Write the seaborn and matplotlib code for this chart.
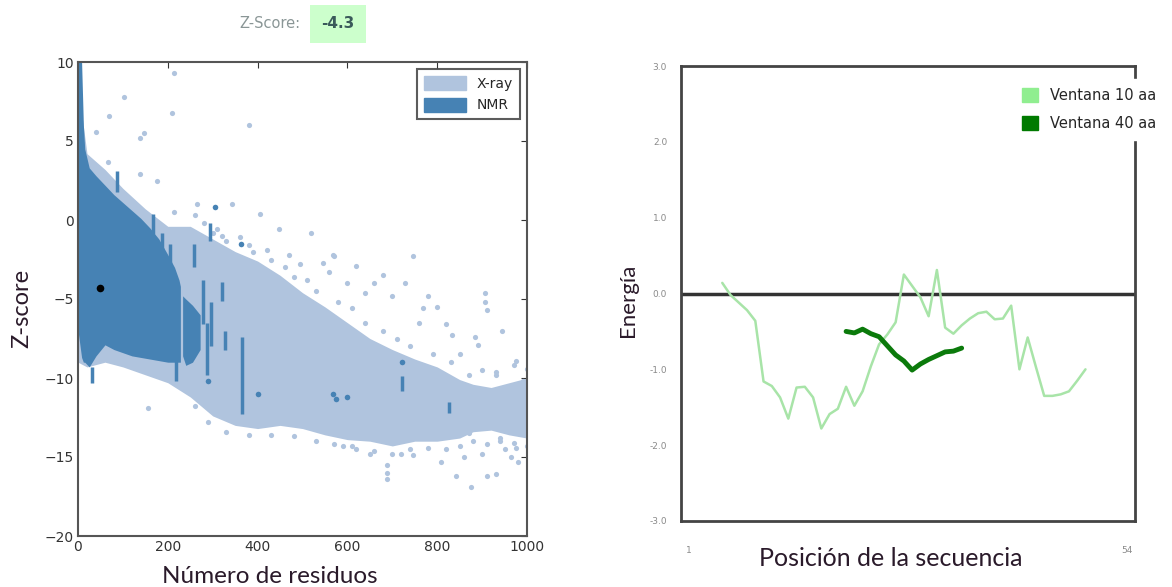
import matplotlib
matplotlib.use("Agg")
import matplotlib.pyplot as plt
from matplotlib.patches import Patch
import seaborn as sns

# ---- left panel: ProSA z-score cloud ----
# dense X-ray cloud envelope
xray_res = [0, 20, 60, 100, 150, 200, 250, 300, 350, 400, 450, 500, 550, 600,
            650, 700, 750, 800, 850, 880, 920, 960, 1000]
xray_top = [8.5, 4.2, 3.2, 2.0, 0.7, -0.4, -0.4, -1.2, -2.0, -2.6, -3.5, -4.6,
            -5.5, -6.5, -7.5, -8.2, -8.8, -9.3, -10.1, -10.4, -10.6, -10.3, -10.0]
xray_bot = [-9.0, -9.3, -9.0, -9.3, -9.8, -10.3, -11.2, -12.4, -13.0, -13.2, -13.0,
            -13.2, -13.6, -13.9, -14.0, -14.3, -14.0, -14.0, -13.8, -13.4, -13.3, -13.6, -13.8]

# dense NMR cloud envelope
nmr_res = [0, 8, 12, 15, 25, 40, 60, 80, 100, 120, 140, 160, 180, 200, 215, 225, 228]
nmr_top = [10.0, 10.0, 6.0, 4.5, 3.3, 2.8, 2.2, 1.6, 1.1, 0.6, 0.1, -0.5, -1.2,
           -2.2, -3.0, -3.8, -4.2]
nmr_bot = [-7.0, -8.7, -9.0, -9.0, -9.3, -8.6, -7.9, -8.2, -8.4, -8.6, -8.7, -8.8,
           -8.9, -9.0, -9.0, -9.0, -9.0]

# second NMR blob
blob_res = [233, 240, 255, 272]
blob_top = [-4.8, -5.0, -5.4, -6.0]
blob_bot = [-8.6, -9.2, -9.0, -8.2]

# NMR vertical streaks (residues, low, high)
streak_res = [87, 167, 187, 205, 258, 294, 278, 287, 297, 321, 327, 365, 32, 219, 721, 826]
streak_lo = [1.8, -0.9, -2.2, -3.0, -3.0, -1.3, -6.6, -9.8, -8.0, -5.1, -8.2, -12.3,
             -10.3, -10.2, -10.8, -12.2]
streak_hi = [3.1, 0.4, -0.8, -1.5, -1.5, -0.2, -3.8, -6.5, -5.2, -3.9, -7.0, -7.4,
             -9.3, -8.5, -9.9, -11.5]

# isolated NMR points
nmr_pt_res = [290, 401, 568, 574, 598, 721, 363, 305]
nmr_pt_z = [-10.2, -11.0, -11.0, -11.3, -11.2, -9.0, -1.55, 0.8]

# isolated X-ray points (outliers and ragged cloud edges)
xray_pt_res = [214, 102, 70, 209, 381, 40, 139, 147, 139, 175, 67, 266, 344, 214, 405,
               448, 518, 571, 619, 746, 679, 728, 906, 906, 910, 944, 799, 769, 884,
               890, 833, 545, 494, 568, 976, 1000, 155, 809, 841, 876, 912, 932, 980,
               689, 689, 689, 745, 860, 900, 950, 1000, 990, 960, 920, 870, 620, 650,
               720, 590, 300, 320, 380, 420, 470, 600, 640, 660, 700, 760, 820, 850,
               780, 560, 940, 975, 995, 965, 930,
               260, 280, 310, 330, 360, 390, 430, 460, 480, 510, 530, 580, 610, 640,
               680, 710, 740, 790, 830, 870, 900, 930, 970, 990,
               260, 290, 330, 380, 430, 480, 530, 570, 610, 660, 700, 740, 780, 820,
               850, 880, 910, 940, 970, 1000]
xray_pt_z = [9.3, 7.8, 6.6, 6.8, 6.0, 5.6, 5.2, 5.5, 2.9, 2.5, 3.7, 1.0, 1.0, 0.5, 0.35,
             -0.6, -0.8, -2.3, -2.9, -2.3, -3.5, -4.0, -4.6, -5.2, -5.7, -7.0, -5.5,
             -5.6, -7.4, -7.9, -7.3, -2.7, -2.8, -2.2, -8.9, -9.4, -11.9, -15.3, -16.2,
             -16.9, -16.2, -16.1, -15.3, -15.5, -16.0, -16.4, -14.9, -15.0, -14.8, -14.5,
             -13.0, -11.5, -12.8, -12.0, -13.5, -14.5, -14.8, -14.8, -14.3, -0.8, -1.0,
             -1.6, -1.9, -2.2, -4.0, -4.6, -4.0, -4.8, -6.5, -6.6, -8.5, -4.8, -3.3,
             -14.0, -14.4, -12.2, -15.0, -9.6,
             0.3, -0.2, -0.6, -1.3, -1.1, -2.0, -2.5, -3.0, -3.6, -3.8, -4.5, -5.2,
             -5.6, -6.5, -7.0, -7.5, -8.0, -8.5, -9.0, -9.8, -9.5, -9.8, -9.2, -10.2,
             -11.8, -12.8, -13.4, -13.6, -13.6, -13.7, -14.0, -14.2, -14.3, -14.6,
             -14.8, -14.5, -14.4, -14.5, -14.3, -14.0, -14.2, -13.8, -14.1, -14.3]

query_res = [50]
query_z = [-4.3]

# ---- right panel: energy profile ----
pos10 = list(range(5, 50))
energy10 = [0.14, -0.02, -0.12, -0.22, -0.36, -1.16, -1.22, -1.37, -1.65, -1.24,
            -1.23, -1.37, -1.78, -1.59, -1.52, -1.23, -1.48, -1.29, -0.96, -0.67,
            -0.54, -0.38, 0.25, 0.10, -0.05, -0.30, 0.31, -0.45, -0.53, -0.42, -0.33,
            -0.26, -0.24, -0.34, -0.33, -0.16, -1.00, -0.58, -0.97, -1.35, -1.35,
            -1.33, -1.29, -1.15, -1.00]
pos40 = list(range(20, 35))
energy40 = [-0.50, -0.52, -0.47, -0.53, -0.57, -0.69, -0.81, -0.89, -1.01, -0.93,
            -0.87, -0.82, -0.77, -0.76, -0.72]
energy_ticks = [-3, -2, -1, 0, 1, 2, 3]
energy_ticklabels = ["-3.0", "-2.0", "-1.0", "0.0", "1.0", "2.0", "3.0"]
pos_ticks = [1, 54]

light = "#b0c4de"
dark = "#4682b4"
label_col = "#2a1a2a"

sns.set_style("white")
plt.rcParams["font.family"] = ["DejaVu Sans"]

fig = plt.figure(figsize=(11.72, 5.87), dpi=100)
ax1 = fig.add_axes([78 / 1172, 51 / 587, 449 / 1172, 474 / 587])
ax2 = fig.add_axes([681 / 1172, 66 / 587, 454 / 1172, 455 / 587])

# left
ax1.fill_between(xray_res, xray_bot, xray_top, color=light, lw=0)
sns.scatterplot(x=xray_pt_res, y=xray_pt_z, color=light, s=14, linewidth=0, ax=ax1)
ax1.fill_between(nmr_res, nmr_bot, nmr_top, color=dark, lw=0)
ax1.fill_between(blob_res, blob_bot, blob_top, color=dark, lw=0)
ax1.vlines(streak_res, streak_lo, streak_hi, color=dark, lw=2.5)
sns.scatterplot(x=nmr_pt_res, y=nmr_pt_z, color=dark, s=16, linewidth=0, ax=ax1)
sns.scatterplot(x=query_res, y=query_z, color="black", s=30, linewidth=0, ax=ax1, zorder=5)

ax1.set_xlim(0, 1000)
ax1.set_ylim(-20, 10)
ax1.set_xticks(range(0, 1001, 200))
ax1.set_yticks(range(-20, 11, 5))
ax1.tick_params(direction="in", top=True, right=True, length=4, labelsize=10,
                colors="#333333", pad=3)
for s in ax1.spines.values():
    s.set_color("#555555")
    s.set_linewidth(1.5)
ax1.set_xlabel("Número de residuos", fontsize=17.5, color=label_col, family="Lato")
ax1.xaxis.set_label_coords(0.428, -0.063)
ax1.set_ylabel("Z-score", fontsize=17, color=label_col, family="Lato")
ax1.yaxis.set_label_coords(-0.102, 0.481)
ax1.legend(handles=[Patch(color=light, label="X-ray"), Patch(color=dark, label="NMR")],
           loc="upper right", fontsize=10, frameon=True, edgecolor="#333333",
           fancybox=False, handlelength=3, handleheight=1.2, borderpad=0.5)
ax1.legend_.get_frame().set_linewidth(1.5)

fig.text(300 / 1172, 1 - 24 / 587, "Z-Score:", ha="right", va="center",
         fontsize=10.5, color="#8a9696")
fig.text(338 / 1172, 1 - 24 / 587, "-4.3", ha="center", va="center", fontsize=11,
         fontweight="bold", color="#3a5a5a",
         bbox=dict(boxstyle="square,pad=0.75", fc="#ccffcc", ec="none"))

# right
sns.lineplot(x=pos10, y=energy10, color="#a8e4a8", lw=1.8, ax=ax2)
sns.lineplot(x=pos40, y=energy40, color="#0b7a0b", lw=3.5, ax=ax2)
ax2.axhline(0, color="#333333", lw=2.5, zorder=1)
ax2.set_xlim(0, 55)
ax2.set_ylim(-3, 3)
ax2.set_yticks(energy_ticks)
ax2.set_yticklabels(energy_ticklabels)
ax2.set_xticks(pos_ticks)
ax2.set_xticklabels([str(p) for p in pos_ticks])
ax2.tick_params(axis="y", length=0, labelsize=6.5, colors="#8a8a8a", pad=10)
ax2.tick_params(axis="x", length=0, labelsize=6.5, colors="#8a8a8a", pad=18)
for s in ax2.spines.values():
    s.set_color("#444444")
    s.set_linewidth(2)
ax2.set_xlabel("Posición de la secuencia", fontsize=18, color=label_col, family="Lato")
ax2.xaxis.set_label_coords(0.4626, -0.058)
ax2.set_ylabel("Energía", fontsize=16, color=label_col, family="Lato")
ax2.yaxis.set_label_coords(-0.095, 0.486)
leg = ax2.legend(handles=[Patch(color="#90ee90", label="Ventana 10 aa"),
                          Patch(color="#007a00", label="Ventana 40 aa")],
                 loc="upper left", bbox_to_anchor=(1006 / 1172, 1 - 72 / 587),
                 bbox_transform=fig.transFigure, fontsize=10.5, frameon=True,
                 facecolor="white", edgecolor="white", framealpha=1, fancybox=False,
                 handlelength=1.1, handleheight=1.1, labelspacing=0.9, borderpad=0.6)
leg.set_zorder(10)

fig.savefig("out.png", dpi=100)
